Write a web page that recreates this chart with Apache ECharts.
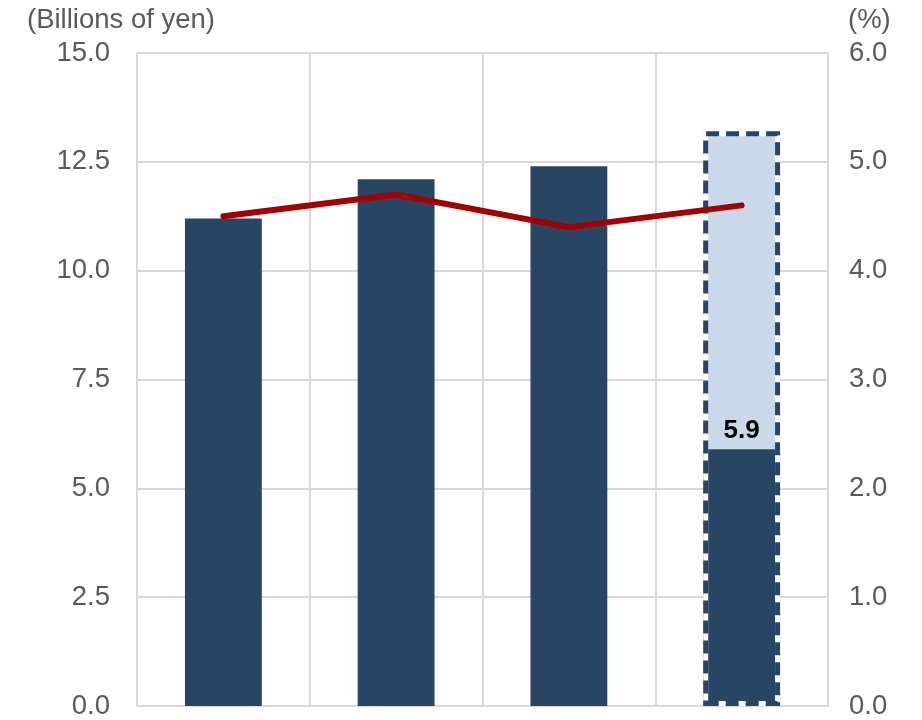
<!DOCTYPE html>
<html><head><meta charset="utf-8">
<script src="https://cdn.jsdelivr.net/npm/echarts@6/dist/echarts.min.js"></script>
<style>html,body{margin:0;padding:0;background:#fff}#c{width:922px;height:720px}</style>
</head><body><div id="c"></div>
<script>
const categories = ['FY1', 'FY2', 'FY3', 'FY4'];
const actualValues = [11.2, 12.1, 12.4, 5.9];
const forecastRemainder = [null, null, null, 7.3];
const forecastTotal = [null, null, null, 13.2];
const ratioValues = [4.5, 4.7, 4.4, 4.6];
const leftAxisName = '(Billions of yen)';
const rightAxisName = '(%)';
const dataLabels = [null, null, null, '5.9'];

const chart = echarts.init(document.getElementById('c'));
const font = 'Liberation Sans, Arial, sans-serif';
const navy = '#284664';
chart.setOption({
  animation: false,
  grid: { left: 137, right: 94, top: 53, bottom: 7 },
  graphic: [
    { type: 'text', left: 27, top: 6, style: { text: leftAxisName, font: '27.5px ' + font, fill: '#595959' } },
    { type: 'text', left: 848, top: 6, style: { text: rightAxisName, font: '27.5px ' + font, fill: '#595959' } }
  ],
  xAxis: {
    type: 'category', data: categories,
    axisLine: { lineStyle: { color: '#D9D9D9', width: 2 } },
    axisTick: { show: false }, axisLabel: { show: false },
    splitLine: { show: true, lineStyle: { color: '#D9D9D9', width: 2 } }
  },
  yAxis: [
    { type: 'value', min: 0, max: 15, interval: 2.5,
      axisLabel: { formatter: v => v.toFixed(1), fontSize: 27.5, color: '#595959', fontFamily: font, margin: 27 },
      axisLine: { show: false }, axisTick: { show: false },
      splitLine: { lineStyle: { color: '#D9D9D9', width: 2 } } },
    { type: 'value', min: 0, max: 6, interval: 1,
      axisLabel: { formatter: v => v.toFixed(1), fontSize: 27.5, color: '#595959', fontFamily: font, margin: 21 },
      axisLine: { show: false }, axisTick: { show: false }, splitLine: { show: false } }
  ],
  series: [
    { type: 'bar', stack: 'a', data: actualValues.map((v, i) => ({
        value: v,
        label: dataLabels[i] ? { show: true, position: 'top', distance: 5, formatter: dataLabels[i],
          fontSize: 26, fontWeight: 'bold', color: '#000', fontFamily: font } : { show: false }
      })),
      barWidth: '44.5%', barGap: '-100%', itemStyle: { color: navy }, z: 2 },
    { type: 'bar', stack: 'a', data: forecastRemainder, barWidth: '44.5%',
      itemStyle: { color: '#C9D9EA' }, z: 1 },
    { type: 'bar', data: forecastTotal, barWidth: '44.5%', silent: true,
      itemStyle: { color: 'rgba(0,0,0,0)', borderColor: '#ffffff', borderWidth: 5 }, z: 3 },
    { type: 'bar', data: forecastTotal, barWidth: '44.5%', silent: true,
      itemStyle: { color: 'rgba(0,0,0,0)', borderColor: navy, borderWidth: 5, borderType: [13, 7] }, z: 4 },
    { type: 'line', yAxisIndex: 1, data: ratioValues, symbol: 'none',
      lineStyle: { color: '#A50000', width: 6, cap: 'round', join: 'round' }, z: 5 }
  ]
});
</script></body></html>
